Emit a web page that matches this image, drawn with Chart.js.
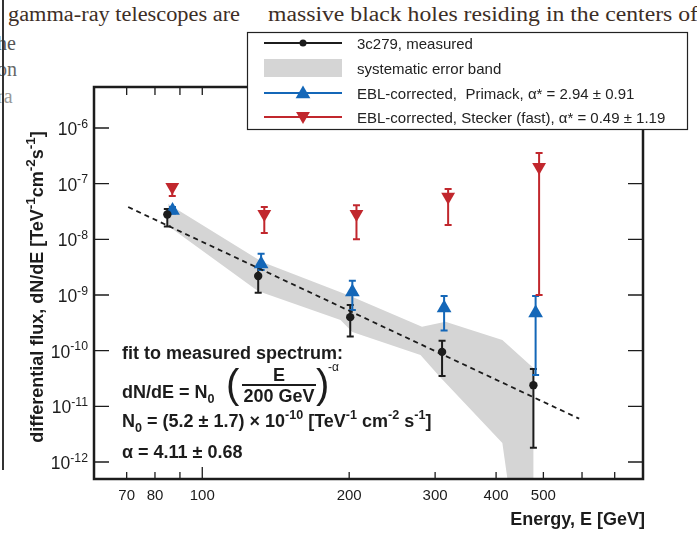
<!DOCTYPE html>
<html>
<head>
<meta charset="utf-8">
<script src="https://cdn.jsdelivr.net/npm/chart.js@4.4.0/dist/chart.umd.min.js"></script>
<style>
  html, body { margin: 0; padding: 0; background: #fff; }
  #wrap { position: relative; width: 697px; height: 533px; overflow: hidden; }
  .scan { position: absolute; font-family: "Liberation Serif", "DejaVu Serif", serif; color: #3d2e26;
          font-size: 20px; line-height: 20px; white-space: nowrap; transform-origin: 0 0; }
  .edge { position: absolute; left: 2px; top: 0; width: 2px; height: 470px; background: #333; }
  canvas { position: absolute; left: 0; top: 0; }
</style>
</head>
<body>
<div id="wrap">
  <div class="scan" data-w="232" style="left:8px; top:4px;">gamma-ray telescopes are</div>
  <div class="scan" data-w="430" style="left:268px; top:4px;">massive black holes residing in the centers of</div>
  <div class="scan" style="left:-3px; top:33px; color:#555;">he</div>
  <div class="scan" style="left:-3px; top:59px; color:#666;">on</div>
  <div class="scan" style="left:-3px; top:86px; color:#999;">ra</div>
  <div class="edge"></div>
  <canvas id="sedChart" width="697" height="533"></canvas>
</div>
<script>
// measured spectrum of 3c279 (energy in GeV, flux in TeV^-1 cm^-2 s^-1)
const energyMeas = [84.8, 130.2, 201, 310, 477];
const fluxMeas   = [2.8e-8, 2.2e-9, 4.0e-10, 9.5e-11, 2.4e-11];
const fluxMeasHi = [3.5e-8, 3.2e-9, 6.6e-10, 1.5e-10, 4.7e-11];
const fluxMeasLo = [1.7e-8, 1.1e-9, 1.8e-10, 3.5e-11, 1.8e-12];

// EBL-corrected, Primack
const energyPrimack = [86.9, 132, 203, 313, 482];
const fluxPrimack   = [3.3e-8, 3.6e-9, 1.13e-9, 5.85e-10, 4.75e-10];
const fluxPrimackHi = [3.8e-8, 5.5e-9, 1.8e-9, 9.6e-10, 9.6e-10];
const fluxPrimackLo = [2.9e-8, 2.8e-9, 5.4e-10, 2.3e-10, 3.65e-11];

// EBL-corrected, Stecker (fast)
const energyStecker = [86.8, 134, 207, 319, 490];
const fluxStecker   = [8.7e-8, 2.85e-8, 2.85e-8, 5.8e-8, 2.0e-7];
const fluxSteckerHi = [9.5e-8, 3.8e-8, 4.1e-8, 8.0e-8, 3.56e-7];
const fluxSteckerLo = [6.0e-8, 1.3e-8, 1.0e-8, 1.8e-8, 1.0e-9];

// systematic error band outline
const bandUpperE = [85.2, 132.7, 201, 282, 315, 412, 477, 477];
const bandUpperF = [4.3e-8, 3.9e-9, 9.6e-10, 2.7e-10, 3.3e-10, 1.56e-10, 4.9e-11, 1e-13];
const bandLowerE = [85.2, 130, 192, 203, 280, 307, 412, 433];
const bandLowerF = [1.74e-8, 1.18e-9, 3.56e-10, 2.17e-10, 8.35e-11, 3.37e-11, 2.2e-12, 1e-13];

// power-law fit, end points of the dashed line
const fitE = [70.5, 592];
const fitF = [3.8e-8, 6.0e-12];

// axis ticks
const xTicks = [70, 80, 90, 100, 200, 300, 400, 500, 600, 700];
const xTickLabels = [70, 80, 100, 200, 300, 400, 500];
const yTickExponents = [-12, -11, -10, -9, -8, -7, -6];

const black = '#1c1c1c';
const blue = '#1467b8';
const red = '#c1272d';
const bandGray = '#d5d5d5';
const font = '"Liberation Sans", Arial, Helvetica, sans-serif';

// squeeze the scanned page text to the width it has in the picture
document.querySelectorAll('.scan[data-w]').forEach(el => {
    const w = el.getBoundingClientRect().width;
    el.style.transform = 'scaleX(' + (el.dataset.w / w) + ')';
});

function pts(xs, ys) { return xs.map((x, i) => ({x: x, y: ys[i]})); }

const bandPolygon = pts(bandUpperE, bandUpperF).concat(pts(bandLowerE, bandLowerF).reverse());

function setFont(ctx, size, weight) { ctx.font = (weight || 'normal') + ' ' + size + 'px ' + font; }

// text with super/subscripts: parts = [[text, 'sup'|'sub'|undefined], ...]
function richWidth(ctx, parts, size, weight, small) {
    let w = 0;
    parts.forEach(p => { setFont(ctx, p[1] ? size * (small || 0.7) : size, weight); w += ctx.measureText(p[0]).width; });
    return w;
}
function drawRich(ctx, parts, x, y, size, weight, small) {
    let cx = x;
    parts.forEach(p => {
        const k = p[1];
        setFont(ctx, k ? size * (small || 0.7) : size, weight);
        const dy = k === 'sup' ? -size * 0.42 : (k === 'sub' ? size * 0.3 : 0);
        ctx.fillText(p[0], cx, y + dy);
        cx += ctx.measureText(p[0]).width;
    });
    return cx;
}

function drawTri(ctx, x, y, r, down) {
    const s = down ? -1 : 1;
    ctx.beginPath();
    ctx.moveTo(x, y - s * r);
    ctx.lineTo(x + r * 0.866, y + s * r / 2);
    ctx.lineTo(x - r * 0.866, y + s * r / 2);
    ctx.closePath();
    ctx.fill();
}

function errorBars(chart, xs, lo, hi, color) {
    const ctx = chart.ctx, sx = chart.scales.x, sy = chart.scales.y;
    ctx.save();
    ctx.strokeStyle = color;
    ctx.lineWidth = 2;
    xs.forEach((e, i) => {
        const px = sx.getPixelForValue(e);
        const top = sy.getPixelForValue(hi[i]);
        const bot = Math.min(sy.getPixelForValue(lo[i]), chart.chartArea.bottom);
        ctx.beginPath();
        ctx.moveTo(px, top); ctx.lineTo(px, bot);
        ctx.moveTo(px - 3.5, top); ctx.lineTo(px + 3.5, top);
        ctx.moveTo(px - 3.5, bot); ctx.lineTo(px + 3.5, bot);
        ctx.stroke();
    });
    ctx.restore();
}

const decor = {
    id: 'decor',
    afterDatasetDraw(chart, args) {
        if (args.index !== 0) return;
        errorBars(chart, energyMeas, fluxMeasLo, fluxMeasHi, black);
        errorBars(chart, energyPrimack, fluxPrimackLo, fluxPrimackHi, blue);
        errorBars(chart, energyStecker, fluxSteckerLo, fluxSteckerHi, red);
    },
    afterDraw(chart) {
        const ctx = chart.ctx, a = chart.chartArea, sx = chart.scales.x, sy = chart.scales.y;
        ctx.save();
        ctx.fillStyle = black;
        ctx.strokeStyle = black;

        // ticks, pointing inwards
        ctx.lineWidth = 1.3;
        ctx.beginPath();
        yTickExponents.forEach(e => {
            const py = sy.getPixelForValue(Math.pow(10, e));
            ctx.moveTo(a.left, py); ctx.lineTo(a.left + 15, py);
            ctx.moveTo(a.right, py); ctx.lineTo(a.right - 15, py);
        });
        xTicks.forEach(v => {
            const px = sx.getPixelForValue(v);
            const len = v === 100 ? 12 : 7;
            ctx.moveTo(px, a.bottom); ctx.lineTo(px, a.bottom - len);
            ctx.moveTo(px, a.top); ctx.lineTo(px, a.top + 8);
        });
        ctx.stroke();

        // frame
        ctx.lineWidth = 2.5;
        ctx.strokeRect(a.left, a.top, a.right - a.left, a.bottom - a.top);

        // y tick labels
        ctx.textBaseline = 'alphabetic';
        yTickExponents.forEach(e => {
            const py = sy.getPixelForValue(Math.pow(10, e));
            const parts = [['10'], [String(e), 'sup']];
            const w = richWidth(ctx, parts, 17.5);
            drawRich(ctx, parts, 88 - w, py + 7, 17.5);
        });

        // x tick labels
        setFont(ctx, 15);
        ctx.textAlign = 'center';
        xTickLabels.forEach(v => ctx.fillText(String(v), sx.getPixelForValue(v), 500));

        // axis titles
        setFont(ctx, 18, 'bold');
        ctx.textAlign = 'right';
        ctx.fillText('Energy, E [GeV]', 645, 525);
        ctx.textAlign = 'left';
        const yTitle = [['differential flux, dN/dE [TeV'], ['-1', 'sup'], ['cm'], ['-2', 'sup'], ['s'], ['-1', 'sup'], [']']];
        ctx.save();
        ctx.translate(43, 287);
        ctx.rotate(-Math.PI / 2);
        const tw = richWidth(ctx, yTitle, 18, 'bold', 0.75);
        drawRich(ctx, yTitle, -tw / 2, 0, 18, 'bold', 0.75);
        ctx.restore();

        // fit annotation
        setFont(ctx, 18, 'bold');
        ctx.fillText('fit to measured spectrum:', 122, 359);
        drawRich(ctx, [['dN/dE = N'], ['0', 'sub']], 122, 398, 18, 'bold');
        ctx.font = 'normal 40px ' + font;
        ctx.fillText('(', 226, 398);
        ctx.fillText(')', 316, 398);
        setFont(ctx, 18, 'bold');
        ctx.textAlign = 'center';
        ctx.fillText('E', 279, 381);
        ctx.fillText('200 GeV', 279, 402);
        ctx.textAlign = 'left';
        ctx.fillRect(242, 384, 74, 2);
        setFont(ctx, 12);
        ctx.fillText('-\u03b1', 328, 371);
        drawRich(ctx, [['N'], ['0', 'sub'], [' = (5.2 \u00b1 1.7) \u00d7 10'], ['-10', 'sup'], [' [TeV'], ['-1', 'sup'],
                       [' cm'], ['-2', 'sup'], [' s'], ['-1', 'sup'], [']']], 122, 427, 18, 'bold');
        setFont(ctx, 18, 'bold');
        ctx.fillText('\u03b1 = 4.11 \u00b1 0.68', 122, 458);

        // legend box
        ctx.fillStyle = '#fff';
        ctx.fillRect(247, 32, 441, 98);
        ctx.lineWidth = 1.2;
        ctx.strokeStyle = '#222';
        ctx.strokeRect(247.5, 32.5, 440, 97);
        const rows = [43, 68, 93, 117];
        const x0 = 264, x1 = 342, xm = 303;
        ctx.lineWidth = 2;
        ctx.strokeStyle = black; ctx.fillStyle = black;
        ctx.beginPath(); ctx.moveTo(x0, rows[0]); ctx.lineTo(x1, rows[0]); ctx.stroke();
        ctx.beginPath(); ctx.arc(xm, rows[0], 3.5, 0, Math.PI * 2); ctx.fill();
        ctx.fillStyle = bandGray;
        ctx.fillRect(x0, rows[1] - 9, x1 - x0, 18);
        ctx.strokeStyle = blue; ctx.fillStyle = blue;
        ctx.beginPath(); ctx.moveTo(x0, rows[2]); ctx.lineTo(x1, rows[2]); ctx.stroke();
        drawTri(ctx, xm, rows[2] + 1, 8.5, false);
        ctx.strokeStyle = red; ctx.fillStyle = red;
        ctx.beginPath(); ctx.moveTo(x0, rows[3]); ctx.lineTo(x1, rows[3]); ctx.stroke();
        drawTri(ctx, xm, rows[3] - 1, 8, true);
        ctx.fillStyle = '#222';
        setFont(ctx, 15);
        const labels = ['3c279, measured', 'systematic error band',
            'EBL-corrected,  Primack, \u03b1* = 2.94 \u00b1 0.91',
            'EBL-corrected, Stecker (fast), \u03b1* = 0.49 \u00b1 1.19'];
        labels.forEach((t, i) => ctx.fillText(t, 357, rows[i] + 5.5));
        ctx.restore();
    }
};

const ctx = document.getElementById('sedChart').getContext('2d');
const sedChart = new Chart(ctx, {
    type: 'line',
    data: {
        datasets: [{
            label: 'systematic error band',
            data: bandPolygon,
            fill: 'shape',
            backgroundColor: bandGray,
            borderColor: 'rgba(0,0,0,0)',
            borderWidth: 0,
            pointRadius: 0,
            order: 10
        }, {
            label: 'fit',
            data: pts(fitE, fitF),
            borderColor: black,
            borderWidth: 1.8,
            borderDash: [5, 4],
            pointRadius: 0,
            fill: false,
            order: 5
        }, {
            label: '3c279, measured',
            data: pts(energyMeas, fluxMeas),
            showLine: false,
            pointStyle: 'circle',
            pointRadius: 4.2,
            pointBorderWidth: 0,
            pointBackgroundColor: black,
            order: 1
        }, {
            label: 'EBL-corrected, Primack',
            data: pts(energyPrimack, fluxPrimack),
            showLine: false,
            pointStyle: 'triangle',
            pointRadius: 8.5,
            pointBorderWidth: 0,
            pointBackgroundColor: blue,
            order: 2
        }, {
            label: 'EBL-corrected, Stecker (fast)',
            data: pts(energyStecker, fluxStecker),
            showLine: false,
            pointStyle: 'triangle',
            pointRotation: 180,
            pointRadius: 8,
            pointBorderWidth: 0,
            pointBackgroundColor: red,
            order: 3
        }]
    },
    options: {
        responsive: false,
        animation: false,
        events: [],
        layout: { padding: { left: 94, right: 54, top: 87, bottom: 54 } },
        scales: {
            x: { type: 'logarithmic', min: 60, max: 800, display: false },
            y: { type: 'logarithmic', min: 4.95e-13, max: 5.45e-6, display: false }
        },
        plugins: {
            legend: { display: false },
            tooltip: { enabled: false }
        }
    },
    plugins: [decor]
});
</script>
</body>
</html>
